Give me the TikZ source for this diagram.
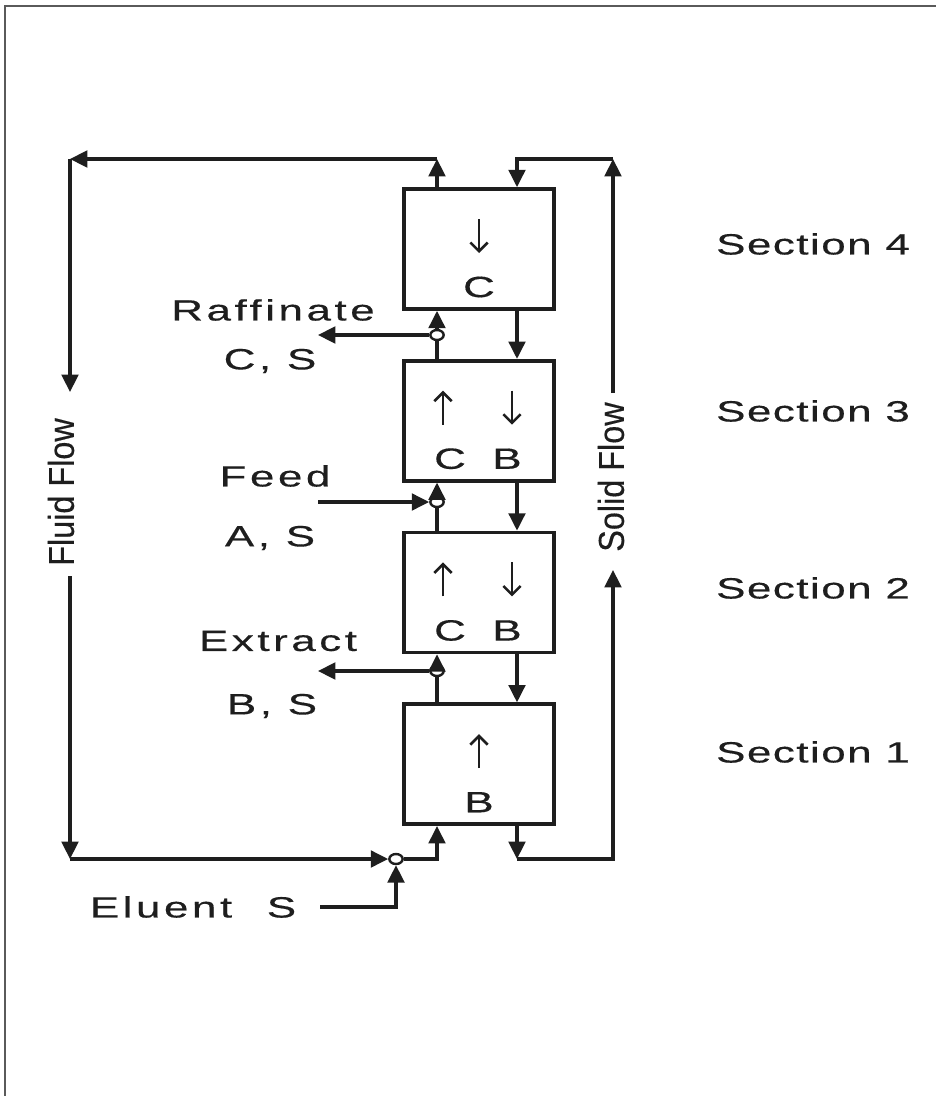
\documentclass[tikz,border=0pt]{standalone}
\usepackage{fontspec}
\setmainfont{Liberation Sans}
\newfontfamily\lblfont[FakeStretch=1.5,LetterSpace=12,FakeBold=0.4]{Liberation Sans}
\newfontfamily\secfont[FakeStretch=1.5,LetterSpace=5,FakeBold=0.4]{Liberation Sans}
\newfontfamily\flowfont[FakeStretch=0.9,FakeBold=0.4]{Liberation Sans}
\usetikzlibrary{arrows.meta,positioning,shapes.geometric}
\definecolor{inkgrey}{RGB}{30,30,30}
\definecolor{framegrey}{RGB}{90,90,90}

\begin{document}
\begin{tikzpicture}[x=0.75pt,y=-0.75pt,
  colbox/.style={draw=inkgrey,line width=2.8pt,minimum width=112pt,minimum height=90pt,inner sep=0pt},
  tap/.style={ellipse,draw=inkgrey,fill=white,line width=1.8pt,minimum width=10pt,minimum height=7.5pt,inner sep=0pt},
  lbl/.style={font=\lblfont\fontsize{22}{25}\selectfont,text=inkgrey,inner sep=0pt},
  seclbl/.style={font=\secfont\fontsize{22}{25}\selectfont,text=inkgrey,inner sep=0pt},
  flowlbl/.style={font=\flowfont\fontsize{27}{30}\selectfont,text=inkgrey,rotate=90,inner sep=0pt},
  ln/.style={line width=2.3pt,inkgrey},
  arr/.style={ln,-{Triangle[length=13pt,width=12.5pt]}},
  inarr/.style={line width=1.9pt,inkgrey,-{Straight Barb[length=6.5pt,width=13pt]}}]
\useasboundingbox (0,0) rectangle (936,1096);
\draw[line width=1.6pt,framegrey] (5,1096) -- (5,6) -- (936,6);

% the four sections of the column
\node[colbox] (s4) at (479,249) {};
\node[colbox,below=36pt of s4] (s3) {};
\node[colbox,below=36pt of s3] (s2) {};
\node[colbox,below=36pt of s2] (s1) {};
\coordinate (fl) at (437,0);
\coordinate (sl) at (517,0);

% what moves inside each section
\draw[inarr] ([shift={(0,-30)}]s4.center) -- ([shift={(0,4)}]s4.center);
\node[lbl] (c4) at ([shift={(0,38)}]s4.center) {C};
\draw[inarr] ([shift={(-36,4)}]s3.center) -- ([shift={(-36,-30)}]s3.center);
\draw[inarr] ([shift={(33,-30)}]s3.center) -- ([shift={(33,4)}]s3.center);
\node[lbl] (c3) at ([shift={(-29,38)}]s3.center) {C};
\node[lbl] (b3) at ([shift={(28,38)}]s3.center) {B};
\draw[inarr] ([shift={(-36,4)}]s2.center) -- ([shift={(-36,-30)}]s2.center);
\draw[inarr] ([shift={(33,-30)}]s2.center) -- ([shift={(33,4)}]s2.center);
\node[lbl] (c2) at ([shift={(-29,38)}]s2.center) {C};
\node[lbl] (b2) at ([shift={(28,38)}]s2.center) {B};
\draw[inarr] ([shift={(0,4)}]s1.center) -- ([shift={(0,-30)}]s1.center);
\node[lbl] (b1) at ([shift={(0,38)}]s1.center) {B};

% ports
\node[tap] (raf) at (437,335) {};
\node[tap] (fee) at (437,502) {};
\node[tap] (ext) at (437,671) {};
\node[tap] (elu) at (396,859) {};

% fluid side of the column
\draw[ln] (s3.north -| fl) -- (raf);
\draw[arr] (raf) -- (s4.south -| fl);
\draw[ln] (s2.north -| fl) -- (fee);
\draw[arr] (fee) -- (s3.south -| fl);
\draw[ln] (s1.north -| fl) -- (ext);
\draw[arr] (ext) -- (s2.south -| fl);

% side streams
\coordinate (rafout) at (318,335);
\coordinate (feein) at (318,502);
\coordinate (extout) at (318,671);
\draw[arr] (raf) -- (rafout);
\draw[arr] (feein) -- (fee);
\draw[arr] (ext) -- (extout);
\node[lbl] (raft) at (273,310) {Raffinate};
\node[lbl] (rafc) at (270,361) {C, S};
\node[lbl] (feet) at (275,476) {Feed};
\node[lbl] (feec) at (270,538) {A, S};
\node[lbl] (extt) at (278,641) {Extract};
\node[lbl] (extc) at (272,706) {B, S};

% fluid recycle
\coordinate (ftop) at (437,159);
\coordinate (fcorner) at (70,159);
\coordinate (fmid1) at (70,392);
\coordinate (fmid2) at (70,576);
\coordinate (fbot) at (70,859);
\draw[arr] (s4.north -| fl) -- (ftop);
\draw[arr] (ftop) -- (fcorner);
\draw[arr] (fcorner) -- (fmid1);
\node[flowlbl] (fflow) at (61,492) {Fluid Flow};
\draw[arr] (fmid2) -- (fbot);
\draw[arr] (fbot) -- (elu);
\draw[arr] (elu) -| (s1.south -| fl);

% eluent
\node[lbl] (elut) at (193,907) {Eluent\hspace{26pt}S};
\coordinate (eluin) at (320,907);
\draw[arr] (eluin) -| (elu);

% solid side of the column
\draw[arr] (s4.south -| sl) -- (s3.north -| sl);
\draw[arr] (s3.south -| sl) -- (s2.north -| sl);
\draw[arr] (s2.south -| sl) -- (s1.north -| sl);
\coordinate (sbot) at (517,859);
\coordinate (smid1) at (613,570);
\coordinate (smid2) at (613,393);
\coordinate (stop) at (613,159);
\draw[arr] (s1.south -| sl) -- (sbot);
\draw[arr] (sbot) -| (smid1);
\node[flowlbl] (sflow) at (611,477) {Solid Flow};
\draw[arr] (smid2) -- (stop);
\draw[arr] (stop) -| (s4.north -| sl);

% section names
\node[seclbl] (t4) at (813,244) {Section 4};
\node[seclbl] (t3) at (813,411) {Section 3};
\node[seclbl] (t2) at (813,588) {Section 2};
\node[seclbl] (t1) at (813,752) {Section 1};
\end{tikzpicture}
\end{document}
